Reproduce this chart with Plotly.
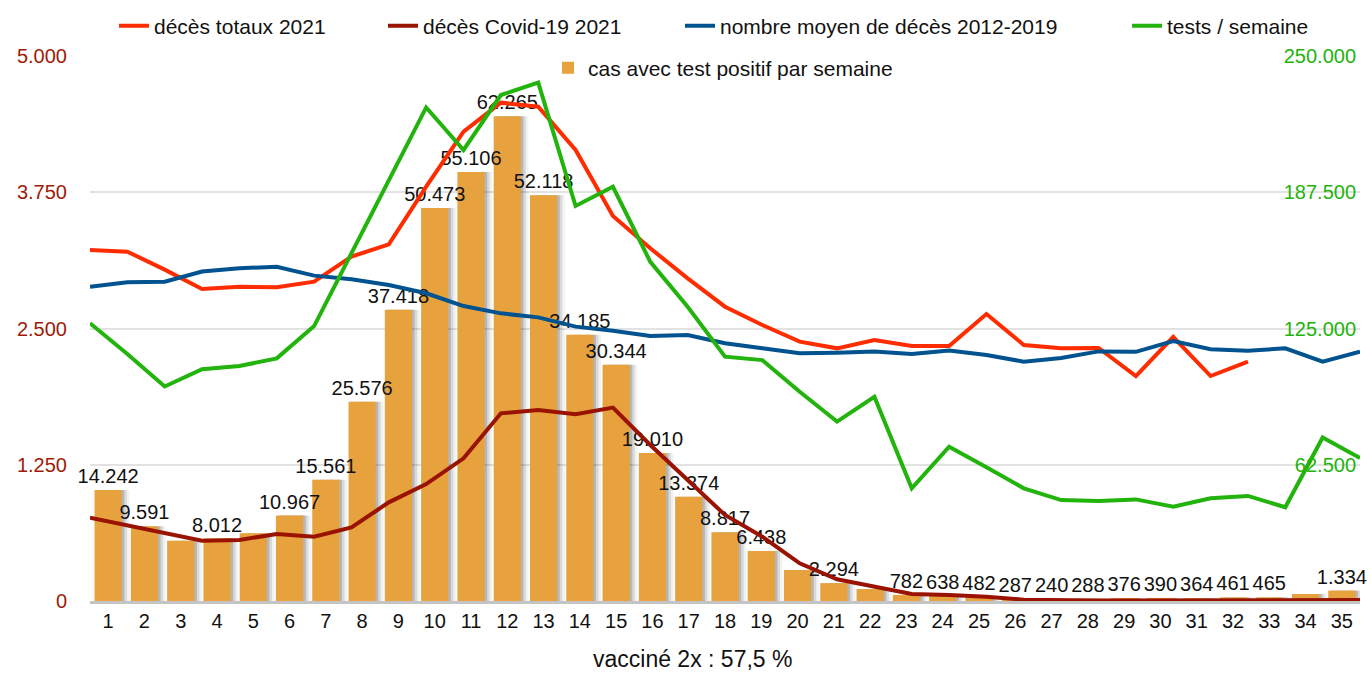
import plotly.graph_objects as go

weeks = list(range(1, 36))

cases_positive = [14242, 9591, 7740, 8012, 8700, 10967, 15561, 25576, 37418, 50473,
                  55106, 62265, 52118, 34185, 30344, 19010, 13374, 8817, 6438, 3980,
                  2294, 1540, 782, 638, 482, 287, 240, 288, 376, 390,
                  364, 461, 465, 900, 1334]
unlabeled_weeks = [3, 5, 20, 22, 34]

deaths_total_2021 = [3220, 3205, 3040, 2862, 2884, 2878, 2930, 3159, 3272, 3801,
                     4306, 4572, 4535, 4138, 3532, 3236, 2960, 2700, 2532, 2379,
                     2318, 2394, 2339, 2339, 2633, 2349, 2318, 2321, 2064, 2422,
                     2064, 2196]

deaths_covid_2021 = [764, 695, 624, 553, 560, 615, 590, 676, 905, 1073,
                     1309, 1722, 1752, 1713, 1774, 1431, 1110, 789, 590, 346,
                     199, 131, 64, 55, 40, 12, 6, 5, 4, 4,
                     4, 5, 5, 8, 10]

deaths_avg_2012_2019 = [2884, 2924, 2930, 3022, 3052, 3067, 2985, 2951, 2899, 2823,
                        2706, 2639, 2602, 2517, 2480, 2431, 2440, 2364, 2318, 2272,
                        2278, 2288, 2266, 2297, 2257, 2196, 2230, 2290, 2286, 2385,
                        2309, 2297, 2318, 2196, 2288]

tests_per_week = [127400, 113300, 98400, 106300, 107800, 111300, 126100, 159600, 193100, 226400,
                  206900, 232100, 237800, 181200, 190000, 155600, 135000, 112100, 110500, 96000,
                  82300, 93700, 51700, 70800, 61300, 51700, 46300, 45900, 46600, 43300,
                  47100, 48200, 43000, 75000, 65600]

left_ticks = [0, 1250, 2500, 3750, 5000]
right_ticks = [62500, 125000, 187500, 250000]


def fmt(v):
    return f"{v:,}".replace(",", ".")


bar_labels = ["" if w in unlabeled_weeks else fmt(v) for w, v in zip(weeks, cases_positive)]

FONT = "Liberation Sans, Arial, sans-serif"
C_RED = "#ff2c00"
C_DARKRED = "#991300"
C_BLUE = "#00538f"
C_GREEN = "#22b30c"
C_BAR = "#e8a23d"

fig = go.Figure()

# soft shadow behind bars
for shift, alpha in [(0.07, 0.16), (0.14, 0.10), (0.21, 0.05)]:
    fig.add_trace(go.Bar(
        x=weeks, y=cases_positive, width=0.75, offset=-0.375 + shift,
        marker=dict(color=f"rgba(0,0,0,{alpha})", line_width=0),
        showlegend=False, hoverinfo="skip", xaxis="x", yaxis="y"))

fig.add_trace(go.Bar(
    x=weeks, y=cases_positive, width=0.75, offset=-0.375,
    marker=dict(color=C_BAR, line_width=0),
    name="cas avec test positif par semaine", legend="legend5",
    xaxis="x", yaxis="y"))

# value labels drawn above all bars
fig.add_trace(go.Bar(
    x=weeks, y=cases_positive, width=0.75, offset=-0.375,
    marker=dict(color="rgba(0,0,0,0)", line_width=0),
    text=bar_labels, textposition="outside", constraintext="none", cliponaxis=False,
    textfont=dict(size=20, color="#111111", family=FONT),
    showlegend=False, hoverinfo="skip", xaxis="x", yaxis="y"))

fig.add_trace(go.Scatter(
    x=weeks[:len(deaths_total_2021)], y=deaths_total_2021, mode="lines",
    line=dict(color=C_RED, width=4), name="décès totaux 2021",
    legend="legend", xaxis="x2", yaxis="y2"))
fig.add_trace(go.Scatter(
    x=weeks, y=deaths_covid_2021, mode="lines",
    line=dict(color=C_DARKRED, width=4), name="décès Covid-19 2021",
    legend="legend2", xaxis="x2", yaxis="y2"))
fig.add_trace(go.Scatter(
    x=weeks, y=deaths_avg_2012_2019, mode="lines",
    line=dict(color=C_BLUE, width=4), name="nombre moyen de décès 2012-2019",
    legend="legend3", xaxis="x2", yaxis="y2"))
fig.add_trace(go.Scatter(
    x=weeks, y=tests_per_week, mode="lines",
    line=dict(color=C_GREEN, width=4), name="tests / semaine",
    legend="legend4", xaxis="x2", yaxis="y3"))

W, H = 1371, 673


def leg(xpx, ypx):
    return dict(x=xpx / W, y=1 - ypx / H, xref="container", yref="container",
                xanchor="left", yanchor="middle", orientation="h",
                bgcolor="rgba(0,0,0,0)", borderwidth=0,
                font=dict(size=21, color="#111111", family=FONT))


fig.update_layout(
    width=W, height=H,
    margin=dict(l=90, r=11, t=56, b=72, autoexpand=False),
    paper_bgcolor="white", plot_bgcolor="white",
    barmode="overlay",
    font=dict(family=FONT, size=20, color="#111111"),
    showlegend=True,
    legend=leg(114, 26),
    legend2=leg(383, 26),
    legend3=leg(680, 26),
    legend4=leg(1127, 26),
    legend5=leg(548, 68),
    xaxis=dict(range=[0.5, 35.5], tickmode="array", tickvals=weeks,
               ticks="", showgrid=False, zeroline=False,
               showline=True, linecolor="#c4c4c4", linewidth=3,
               tickfont=dict(size=20, color="#111111", family=FONT)),
    xaxis2=dict(overlaying="x", range=[1, 35], visible=False),
    yaxis=dict(range=[0, 70000], visible=False),
    yaxis2=dict(overlaying="y", side="left", range=[0, 5000],
                tickmode="array", tickvals=left_ticks, ticktext=[fmt(v) for v in left_ticks],
                tickfont=dict(size=20, color="#9e1b08", family=FONT),
                showgrid=True, gridcolor="#e2e2e2", gridwidth=2,
                zeroline=False, showline=False, ticks="", ticklabelstandoff=22),
    yaxis3=dict(overlaying="y", side="right", range=[0, 250000],
                tickmode="array", tickvals=right_ticks, ticktext=[fmt(v) for v in right_ticks],
                tickfont=dict(size=20, color=C_GREEN, family=FONT),
                ticklabelposition="inside", ticklabeloverflow="allow",
                ticklabelstandoff=1,
                showgrid=False, zeroline=False, showline=False, ticks=""),
    annotations=[dict(text="vacciné 2x : 57,5 %", xref="paper", yref="paper",
                      x=(692 - 90) / 1270, y=-(659 - 601) / 545,
                      xanchor="center", yanchor="middle", showarrow=False,
                      font=dict(size=23, color="#111111", family=FONT))],
)

fig.write_html("out.html", config={"displayModeBar": False},
               post_script="document.body.style.margin='0px';")
